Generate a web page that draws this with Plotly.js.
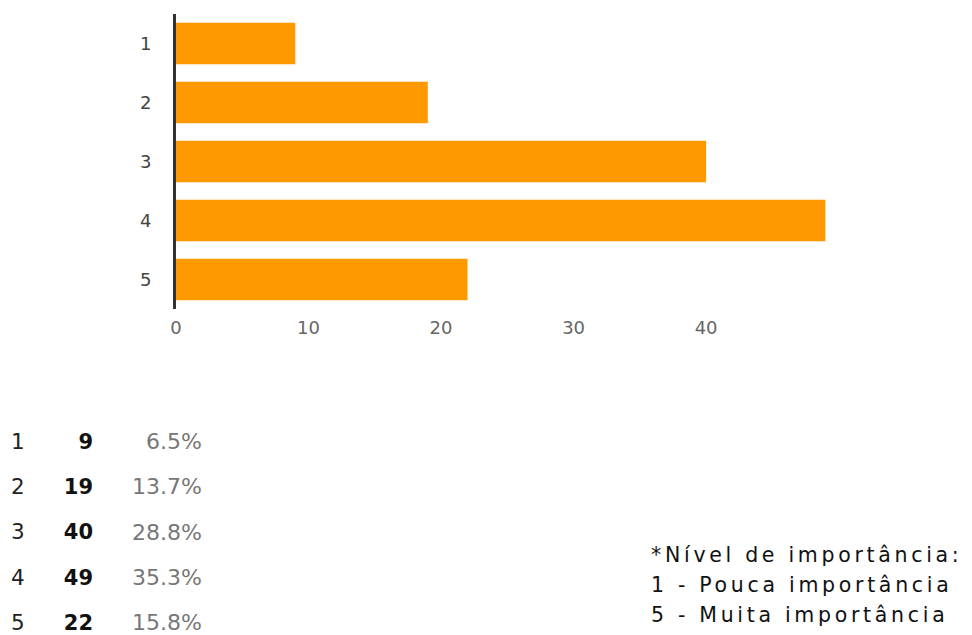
<!DOCTYPE html>
<html>
<head>
<meta charset="utf-8">
<script src="https://cdn.plot.ly/plotly-3.0.1.min.js"></script>
<style>
html,body{margin:0;padding:0;background:#fff;}
#chart{width:972px;height:635px;}
</style>
</head>
<body>
<div id="chart"></div>
<script>
// ---- data ----
var categories = ["1", "2", "3", "4", "5"];
var counts = [9, 19, 40, 49, 22];
var percents = ["6.5%", "13.7%", "28.8%", "35.3%", "15.8%"];
var xTickVals = [0, 10, 20, 30, 40];
var noteLines = ["*Nível de importância:", "1 - Pouca importância", "5 - Muita importância"];

// ---- layout constants ----
var W = 972, H = 635;
function px(x){ return x / W; }
function py(y){ return 1 - y / H; }
var FONT = "DejaVu Sans, Liberation Sans, Arial, sans-serif";

var barTrace = {
  type: "bar",
  orientation: "h",
  y: categories,
  x: counts,
  marker: {color: "#ff9900"},
  hoverinfo: "none",
  xaxis: "x",
  yaxis: "y"
};

var rowIdx = categories.map(function(c, i){ return i + 1; });
var colLabel = {
  type: "scatter", mode: "text", cliponaxis: false,
  x: categories.map(function(){ return 11; }),
  y: rowIdx,
  text: categories,
  textposition: "middle right",
  textfont: {family: FONT, size: 21.5, color: "#222"},
  hoverinfo: "none", xaxis: "x2", yaxis: "y2"
};
var colCount = {
  type: "scatter", mode: "text", cliponaxis: false,
  x: counts.map(function(){ return 93; }),
  y: rowIdx,
  text: counts.map(function(v){ return "<b>" + v + "</b>"; }),
  textposition: "middle left",
  textfont: {family: FONT, size: 21, color: "#111"},
  hoverinfo: "none", xaxis: "x2", yaxis: "y2"
};
var colPct = {
  type: "scatter", mode: "text", cliponaxis: false,
  x: percents.map(function(){ return 202; }),
  y: rowIdx,
  text: percents,
  textposition: "middle left",
  textfont: {family: FONT, size: 22, color: "#777"},
  hoverinfo: "none", xaxis: "x2", yaxis: "y2"
};

var noteY = [555, 585, 615];
var annotations = noteLines.map(function(l, i){
  return {
    xref: "paper", yref: "paper",
    x: px(649), y: py(noteY[i]),
    xanchor: "left", yanchor: "middle",
    align: "left",
    showarrow: false,
    text: '<span style="letter-spacing:3.7px">' + l + '</span>',
    font: {family: FONT, size: 20.5, color: "#111"}
  };
});

var layout = {
  width: W, height: H,
  margin: {l: 0, r: 0, t: 0, b: 0},
  paper_bgcolor: "#fff",
  plot_bgcolor: "rgba(0,0,0,0)",
  showlegend: false,
  bargap: 0.3,
  font: {family: FONT},
  xaxis: {
    domain: [px(176), px(832)],
    range: [0, 49.5],
    tickvals: xTickVals,
    showgrid: false, zeroline: false, showline: false,
    ticks: "", ticklabelstandoff: 6,
    tickfont: {size: 18, color: "#666"},
    fixedrange: true
  },
  yaxis: {
    domain: [py(309), py(14)],
    type: "category",
    autorange: "reversed",
    showgrid: false, zeroline: false,
    showline: true, linecolor: "#333", linewidth: 3,
    ticks: "", ticklabelstandoff: 18,
    tickfont: {size: 18, color: "#444"},
    fixedrange: true
  },
  xaxis2: {
    domain: [0, px(220)], range: [0, 220], anchor: "y2",
    visible: false, fixedrange: true
  },
  yaxis2: {
    domain: [0, py(420)], range: [5.232, 0.4807], anchor: "x2",
    visible: false, fixedrange: true
  },
  annotations: annotations
};

Plotly.newPlot("chart", [barTrace, colLabel, colCount, colPct], layout, {displayModeBar: false, staticPlot: true});
</script>
</body>
</html>
